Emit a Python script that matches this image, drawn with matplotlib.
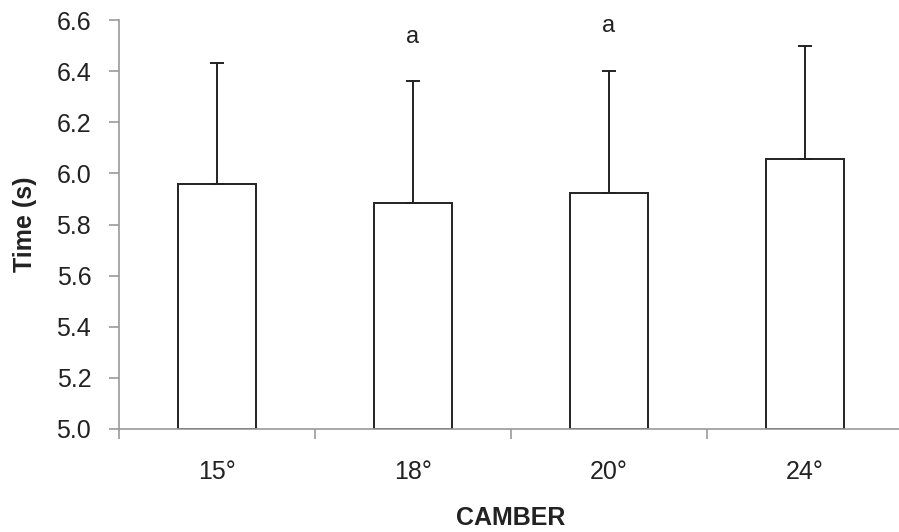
import matplotlib.pyplot as plt
import numpy as np

plt.rcParams["font.family"] = ["Liberation Sans", "DejaVu Sans"]

categories = ["15°", "18°", "20°", "24°"]
means = [5.96, 5.885, 5.925, 6.055]
upper_err = [0.47, 0.475, 0.475, 0.445]
letters = ["", "a", "a", ""]
letter_y = [None, 6.535, 6.575, None]

fig = plt.figure(figsize=(8.99, 5.32), dpi=100)
ax = fig.add_axes([119 / 899, 1 - 429 / 532, 784 / 899, 409 / 532])

x = np.arange(len(categories))
ax.bar(x, np.array(means) - 5.0, bottom=5.0, width=0.4, color="white",
       edgecolor="#222222", linewidth=1.4, zorder=2)
ax.errorbar(x, means, yerr=[np.zeros(len(means)), upper_err], fmt="none",
            ecolor="#222222", elinewidth=1.4, capsize=5, capthick=1.4, zorder=3)

for xi, lab, ly in zip(x, letters, letter_y):
    if lab:
        ax.text(xi, ly, lab, ha="center", va="center", fontsize=17, color="#222222")

ax.set_xlim(-0.5, 3.5)
ax.set_ylim(5.0, 6.6)
ax.set_yticks(np.arange(5.0, 6.61, 0.2))
ax.set_yticklabels([f"{v:.1f}" for v in np.arange(5.0, 6.61, 0.2)])
ax.set_xticks(x)
ax.set_xticklabels(categories)
ax.set_xticks(np.arange(-0.5, 3.6, 1.0), minor=True)

for side in ["top", "right"]:
    ax.spines[side].set_visible(False)
for side in ["left", "bottom"]:
    ax.spines[side].set_color("#999999")
    ax.spines[side].set_linewidth(1.2)

ax.tick_params(axis="y", colors="#999999", labelcolor="#222222", labelsize=18,
               length=7, width=1.2, pad=13)
ax.tick_params(axis="x", which="major", length=0, labelsize=18,
               labelcolor="#222222", pad=22)
ax.tick_params(axis="x", which="minor", colors="#999999", length=7, width=1.2)

ax.set_ylabel("Time (s)", fontsize=18, fontweight="bold", color="#222222", labelpad=14)
ax.set_xlabel("CAMBER", fontsize=18, fontweight="bold", color="#222222", labelpad=16)

fig.savefig("out.png", dpi=100)
